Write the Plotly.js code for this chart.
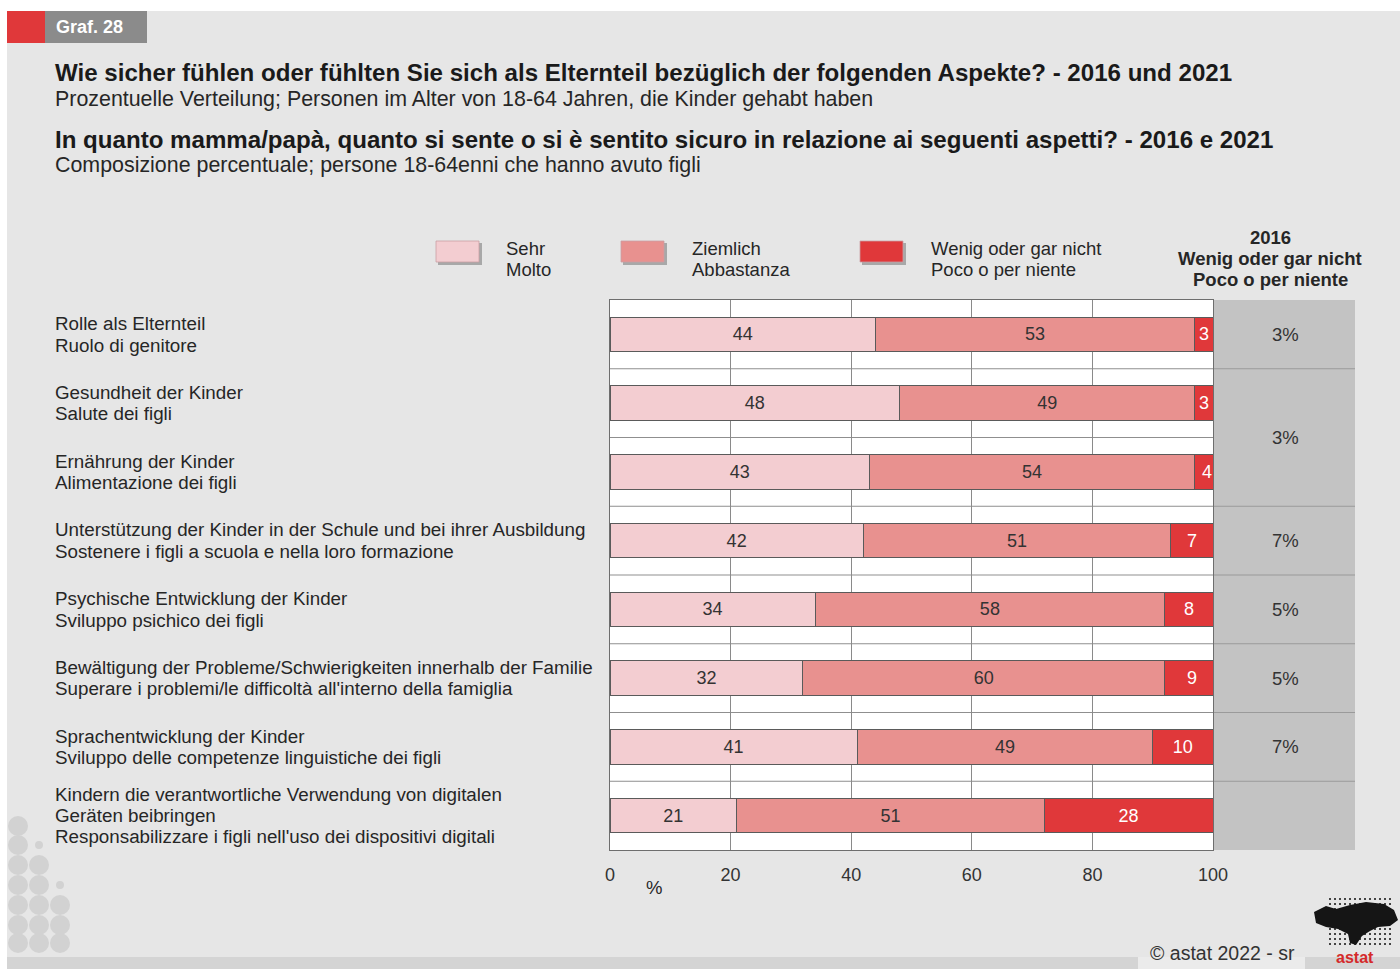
<!DOCTYPE html>
<html>
<head>
<meta charset="utf-8">
<script src="https://cdn.plot.ly/plotly-3.0.1.min.js"></script>
<style>
html,body{margin:0;padding:0;background:#ffffff;}
#chart{width:1400px;height:969px;}
</style>
</head>
<body>
<div id="chart"></div>
<script>
// ---- data ----
var categories = ["c1","c2","c3","c4","c5","c6","c7","c8"];
var categoryLabels = [
  "Rolle als Elternteil<br>Ruolo di genitore",
  "Gesundheit der Kinder<br>Salute dei figli",
  "Ernährung der Kinder<br>Alimentazione dei figli",
  "Unterstützung der Kinder in der Schule und bei ihrer Ausbildung<br>Sostenere i figli a scuola e nella loro formazione",
  "Psychische Entwicklung der Kinder<br>Sviluppo psichico dei figli",
  "Bewältigung der Probleme/Schwierigkeiten innerhalb der Familie<br>Superare i problemi/le difficoltà all'interno della famiglia",
  "Sprachentwicklung der Kinder<br>Sviluppo delle competenze linguistiche dei figli",
  "Kindern die verantwortliche Verwendung von digitalen<br>Geräten beibringen<br>Responsabilizzare i figli nell'uso dei dispositivi digitali"
];
var sehr     = [44, 48, 43, 42, 34, 32, 41, 21];
var ziemlich = [53, 49, 54, 51, 58, 60, 49, 51];
var wenig    = [3, 3, 4, 7, 8, 9, 10, 28];
// 2016 values: "Gesundheit" and "Ernährung" share one merged cell; last row has no value
var wenig2016Labels = ["3%", "3%", "7%", "5%", "5%", "7%"];
var wenig2016Rows   = [0, 1.5, 3, 4, 5, 6];
var xTicks = [0, 20, 40, 60, 80, 100];
var seriesNames = ["Sehr<br>Molto", "Ziemlich<br>Abbastanza", "Wenig oder gar nicht<br>Poco o per niente"];

// ---- geometry helpers (pixel -> paper) ----
var PL = 610, PR = 1213, PT = 300, PB = 850;
function px(x){ return (x - PL) / (PR - PL); }
function py(y){ return (PB - y) / (PB - PT); }
var ROWPX = (PB - PT) / categories.length;

var colSehr = "#f3cdd1", colZiem = "#e8918f", colWenig = "#e0383a";
var FONT = "Liberation Sans, Arial, sans-serif";

function barTrace(vals, name, color, txtColor){
  return {
    type: "bar", orientation: "h", y: categories, x: vals, name: name,
    marker: {color: color, line: {color: "#5a5a5a", width: 1}},
    texttemplate: "%{x}", textposition: "inside", insidetextanchor: "middle",
    textangle: 0, constraintext: "none",
    insidetextfont: {family: FONT, size: 18, color: txtColor},
    hoverinfo: "skip", showlegend: false
  };
}
var traces = [
  barTrace(sehr, seriesNames[0], colSehr, "#333333"),
  barTrace(ziemlich, seriesNames[1], colZiem, "#333333"),
  barTrace(wenig, seriesNames[2], colWenig, "#ffffff")
];

var shapes = [];
var annotations = [];
function rectPx(x0,y0,x1,y1,fill,layer){
  shapes.push({type:"rect", xref:"paper", yref:"paper", x0:px(x0), x1:px(x1), y0:py(y1), y1:py(y0),
    fillcolor:fill, line:{width:0}, layer: layer || "below"});
}
// page decorations
rectPx(0,0,1400,11,"#ffffff");
rectPx(0,0,7,969,"#ffffff");
rectPx(7,11,45,43,"#e0383a");
rectPx(45,11,147,43,"#8b8b8b");
rectPx(7,957,1400,969,"#d4d4d4");
rectPx(1138,957,1305,969,"#ebebeb");
// right 2016 panel
rectPx(1213,PT,1355,PB,"#c3c3c3");
[0,2,3,4,5,6].forEach(function(i){
  shapes.push({type:"line", xref:"paper", yref:"y", x0:1, x1:px(1355), y0:i+0.5, y1:i+0.5,
    line:{color:"#9a9a9a", width:1.2}, layer:"below"});
});
// row boundary grid lines inside plot
for (var i=0;i<7;i++){
  shapes.push({type:"line", xref:"x", yref:"y", x0:0, x1:100, y0:i+0.5, y1:i+0.5,
    line:{color:"#8f8f8f", width:1}, layer:"below"});
}
// legend boxes with shadow
[[436,colSehr],[621,colZiem],[860,colWenig]].forEach(function(b){
  rectPx(b[0]+2,243,b[0]+46,265,"#a8a8a8","above");
  shapes.push({type:"rect", xref:"paper", yref:"paper", x0:px(b[0]), x1:px(b[0]+43), y0:py(262), y1:py(241),
    fillcolor:b[1], line:{color:"#c9a0a3", width:0.8}, layer:"above"});
});
// bottom-left dot pattern
var dots = [[18,826,10],[18,845,10],[18,865,10],[18,885,10],[18,905,10],[18,925,10],[18,943,10],
  [39,865,10],[39,885,10],[39,905,10],[39,925,10],[39,943,10],
  [60,905,10],[60,925,10],[60,943,10],[39,845,4],[60,885,4]];
dots.forEach(function(d){
  shapes.push({type:"circle", xref:"paper", yref:"paper", x0:px(d[0]-d[2]), x1:px(d[0]+d[2]),
    y0:py(d[1]+d[2]), y1:py(d[1]-d[2]), fillcolor:"#d2d2d2", line:{width:0}, layer:"below"});
});
// logo: dotted grid + dark map blob (approximate)
for (var gx = 1330; gx <= 1390; gx += 5){
  for (var gy = 899; gy <= 944; gy += 5){
    shapes.push({type:"rect", xref:"paper", yref:"paper", x0:px(gx-1), x1:px(gx+1), y0:py(gy+1), y1:py(gy-1),
      fillcolor:"#444444", line:{width:0}, layer:"above"});
  }
}
var logoPts = [[1314,912],[1326,906],[1336,909],[1350,905],[1366,902],[1384,904],[1394,910],[1398,920],[1390,926],[1378,927],[1370,931],[1362,936],[1356,945],[1350,943],[1348,934],[1338,929],[1326,927],[1316,923]];
var path = "M " + logoPts.map(function(p){ return px(p[0]) + "," + py(p[1]); }).join(" L ") + " Z";
shapes.push({type:"path", xref:"paper", yref:"paper", path:path, fillcolor:"#151515", line:{width:0}, layer:"above"});

function ann(text, x, y, opts){
  var a = {text:text, xref:"paper", yref:"paper", x:px(x - 2), y:py(y), showarrow:false,
    xanchor:"left", yanchor:"middle", align:"left",
    font:{family:FONT, size:18.5, color:"#262626"}};
  for (var k in opts){ a[k] = opts[k]; }
  annotations.push(a);
}
function annC(text, x, y, opts){
  opts = opts || {};
  opts.xanchor = "center"; opts.align = "center"; opts.x = px(x);
  ann(text, x, y, opts);
}
ann("<b>Graf. 28</b>", 56, 27, {font:{family:FONT, size:18, color:"#ffffff"}});
ann("<b>Wie sicher fühlen oder fühlten Sie sich als Elternteil bezüglich der folgenden Aspekte? - 2016 und 2021</b>", 55, 73,
  {font:{family:FONT, size:24.1, color:"#1a1a1a"}});
ann("Prozentuelle Verteilung; Personen im Alter von 18-64 Jahren, die Kinder gehabt haben", 55, 99,
  {font:{family:FONT, size:21.4, color:"#262626"}});
ann("<b>In quanto mamma/papà, quanto si sente o si è sentito sicuro in relazione ai seguenti aspetti? - 2016 e 2021</b>", 55, 140,
  {font:{family:FONT, size:24.1, color:"#1a1a1a"}});
ann("Composizione percentuale; persone 18-64enni che hanno avuto figli", 55, 165,
  {font:{family:FONT, size:21.4, color:"#262626"}});
// legend texts (one annotation per line for tight line spacing)
[[506,seriesNames[0]],[692,seriesNames[1]],[931,seriesNames[2]]].forEach(function(l){
  var lines = l[1].split("<br>");
  ann(lines[0], l[0], 248, {});
  ann(lines[1], l[0], 269, {});
});
annC("<b>2016</b>", 1270, 238, {});
annC("<b>Wenig oder gar nicht</b>", 1270, 258, {});
annC("<b>Poco o per niente</b>", 1270, 279, {});
// row labels
categoryLabels.forEach(function(t, i){
  var lines = t.split("<br>");
  var n = lines.length;
  lines.forEach(function(line, k){
    annotations.push({text:line, xref:"paper", yref:"y", x:px(53), y:i + (k - (n-1)/2) * 21.3 / ROWPX,
      showarrow:false, xanchor:"left", yanchor:"middle", align:"left",
      font:{family:FONT, size:18.8, color:"#262626"}});
  });
});
// 2016 values
wenig2016Labels.forEach(function(t, i){
  annotations.push({text:t, xref:"paper", yref:"y", x:px(1285), y:wenig2016Rows[i], showarrow:false,
    xanchor:"center", yanchor:"middle", font:{family:FONT, size:18.5, color:"#333333"}});
});
annC("%", 654, 887, {});
annC("© astat 2022 - sr", 1222, 953, {font:{family:FONT, size:19.5, color:"#333333"}});
annC("<b>astat</b>", 1355, 957, {font:{family:FONT, size:16, color:"#d42a2a"}});

var layout = {
  width: 1400, height: 969,
  margin: {l: PL, r: 1400 - PR, t: PT, b: 969 - PB, pad: 0},
  paper_bgcolor: "#e6e6e6", plot_bgcolor: "#ffffff",
  barmode: "stack", bargap: 0.5,
  showlegend: false,
  font: {family: FONT, size: 18, color: "#333333"},
  xaxis: {range: [0, 100], tickvals: xTicks, ticktext: xTicks.map(String),
    showgrid: true, gridcolor: "#8a8a8a", gridwidth: 1, zeroline: false,
    showline: true, mirror: true, linecolor: "#6e6e6e", linewidth: 1,
    ticks: "outside", ticklen: 8, tickcolor: "rgba(0,0,0,0)",
    tickfont: {family: FONT, size: 18, color: "#333333"}, fixedrange: true},
  yaxis: {type: "category", categoryorder: "array", categoryarray: categories,
    range: [7.5, -0.5], showticklabels: false, showgrid: false, zeroline: false,
    showline: true, mirror: true, linecolor: "#6e6e6e", linewidth: 1, ticks: "", fixedrange: true},
  shapes: shapes,
  annotations: annotations
};
Plotly.newPlot("chart", traces, layout, {displayModeBar: false, staticPlot: true});
</script>
</body>
</html>
